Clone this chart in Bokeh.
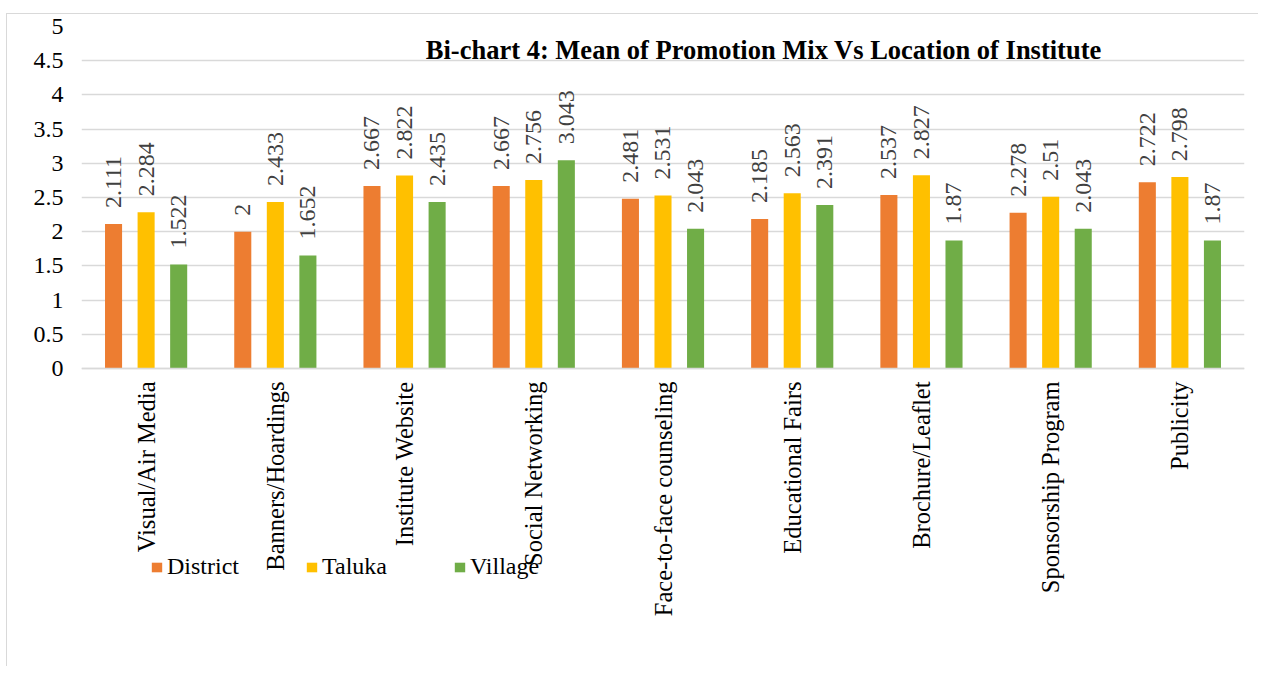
import math
from bokeh.plotting import figure
from bokeh.models import ColumnDataSource, LabelSet, Label, Legend, LegendItem, FactorRange, Range1d, FixedTicker
from bokeh.transform import dodge
from bokeh.embed import file_html
from bokeh.resources import INLINE

categories = ["Visual/Air Media", "Banners/Hoardings", "Institute Website", "Social Networking",
              "Face-to-face counseling", "Educational Fairs", "Brochure/Leaflet",
              "Sponsorship Program", "Publicity"]
district = [2.111, 2.0, 2.667, 2.667, 2.481, 2.185, 2.537, 2.278, 2.722]
taluka = [2.284, 2.433, 2.822, 2.756, 2.531, 2.563, 2.827, 2.51, 2.798]
village = [1.522, 1.652, 2.435, 3.043, 2.043, 2.391, 1.87, 2.043, 1.87]
district_labels = ["2.111", "2", "2.667", "2.667", "2.481", "2.185", "2.537", "2.278", "2.722"]
taluka_labels = ["2.284", "2.433", "2.822", "2.756", "2.531", "2.563", "2.827", "2.51", "2.798"]
village_labels = ["1.522", "1.652", "2.435", "3.043", "2.043", "2.391", "1.87", "2.043", "1.87"]
y_ticks = [0, 0.5, 1, 1.5, 2, 2.5, 3, 3.5, 4, 4.5, 5]
series_names = ["District", "Taluka", "Village"]
colors = ["#ED7D31", "#FFC000", "#70AD47"]
title_text = "Bi-chart 4: Mean of Promotion Mix Vs Location of Institute"

FONT = "Liberation Serif"

# frame geometry: 0..5 spans 342 px; frame continues below 0 to hold axis labels and legend
PX_PER_UNIT = 342 / 5
FRAME_H = 640
y_min = -(FRAME_H - 342) / PX_PER_UNIT

source = ColumnDataSource(dict(cat=categories, district=district, taluka=taluka, village=village,
                               dl=district_labels, tl=taluka_labels, vl=village_labels))

p = figure(x_range=FactorRange(*categories, range_padding=0), y_range=Range1d(y_min, 5),
           frame_width=1163, frame_height=FRAME_H, output_backend="svg", toolbar_location=None,
           min_border_left=74, min_border_right=14, min_border_top=12, min_border_bottom=0,
           margin=(13, 0, 0, 6))
p.styles = {"border-top": "1px solid #d9d9d9", "border-left": "1px solid #d9d9d9"}
p.outline_line_color = None

offsets = [-0.252, 0.0, 0.252]
fields = ["district", "taluka", "village"]
lfields = ["dl", "tl", "vl"]
renderers = []
for off, f, lf, c in zip(offsets, fields, lfields, colors):
    r = p.vbar(x=dodge("cat", off, range=p.x_range), top=f, bottom=0, width=0.132, source=source,
               fill_color=c, line_color=None)
    renderers.append(r)
    labels = LabelSet(x=dodge("cat", off, range=p.x_range), y=f, text=lf, source=source,
                      angle=math.pi / 2, text_align="left", text_baseline="middle",
                      y_offset=16, text_font=FONT, text_font_size="24px", text_color="#404040")
    p.add_layout(labels)

p.add_layout(Label(x=5.28, y=4.66, text=title_text, text_align="center", text_baseline="middle",
                   text_font=FONT, text_font_size="26.5px", text_font_style="bold", text_color="#000000"))

p.yaxis.ticker = FixedTicker(ticks=y_ticks)
p.yaxis.axis_line_color = None
p.yaxis.major_tick_line_color = None
p.yaxis.minor_tick_line_color = None
p.yaxis.major_label_text_font = FONT
p.yaxis.major_label_text_font_size = "24px"
p.yaxis.major_label_text_color = "#000000"
p.yaxis.major_label_standoff = 12

p.xaxis.fixed_location = 0
p.xaxis.axis_line_color = "#d9d9d9"
p.xaxis.axis_line_width = 1.5
p.xaxis.major_tick_line_color = None
p.xaxis.minor_tick_line_color = None
p.xaxis.major_label_orientation = math.pi / 2
p.xaxis.major_label_text_font = FONT
p.xaxis.major_label_text_font_size = "24.5px"
p.xaxis.major_label_text_color = "#000000"
p.xaxis.major_label_standoff = 7

p.xgrid.grid_line_color = None
p.ygrid.grid_line_color = "#d9d9d9"
p.ygrid.grid_line_width = 1.5

legend = Legend(items=[LegendItem(label=n, renderers=[r]) for n, r in zip(series_names, renderers)],
                orientation="horizontal", location=(69, 86), spacing=66,
                glyph_width=13, glyph_height=12, label_standoff=4,
                label_text_font=FONT, label_text_font_size="24px", label_text_color="#000000",
                background_fill_alpha=0, border_line_color=None, padding=0, margin=0)
p.add_layout(legend, "center")

open("out.html", "w").write(file_html(p, INLINE))
